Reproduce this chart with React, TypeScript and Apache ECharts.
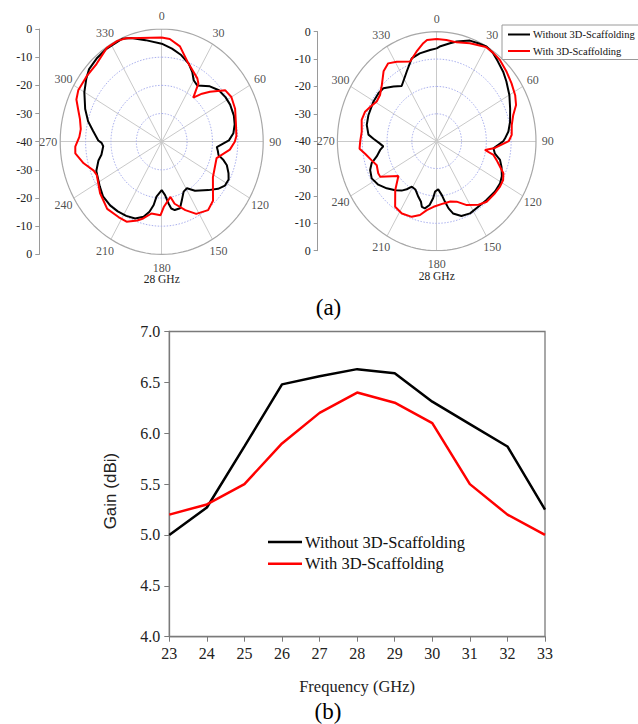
import React, { useEffect, useRef } from 'react';
import * as echarts from 'echarts';

// ---------- data ----------
const SERIES_NAMES = ['Without 3D-Scaffolding', 'With 3D-Scaffolding'];
const ANGLE_TICKS = [0, 30, 60, 90, 120, 150, 180, 210, 240, 270, 300, 330];
const RING_LEVELS = [-30, -20, -10]; // dB
const RADIAL_MIN = -40; // dB at the centre
const POLAR_CAPTION = '28 GHz';

// [angle (deg, clockwise from top), gain (dB)]
const LEFT_WITHOUT: [number, number][] = [
  [0, -5.2], [7, -6.7], [14, -8.3], [21, -10.3], [26, -12.5], [30, -14.8], [35, -15.6], [44, -12.7],
  [51, -11], [58, -10.3], [64, -10], [72, -10.1], [78, -10.6], [84, -11.6], [89, -13.5], [95, -18.2],
  [98, -17.7], [102, -17.1], [105, -14.8], [108, -13], [113, -11.4], [117, -10.4], [122, -10.6],
  [127, -12.2], [133, -14.8], [143, -18.2], [149, -20.7], [154, -20.3], [159, -17.8], [163, -15.3],
  [168, -15.2], [171, -16], [173, -17.9], [176, -21], [180, -22.8], [186, -20.4], [188, -17.3],
  [191, -14.7], [195, -12.4], [201, -10.8], [208, -10.2], [215, -9.8], [222, -9.6], [230, -9.8],
  [237, -10.9], [248, -12.2], [255, -14.2], [259, -15.8], [266, -16.9], [269, -16.3], [271, -15],
  [278, -12.7], [284, -10.1], [291, -7.7], [300, -4.8], [307, -2.8], [312, -1.5], [319, -0.9],
  [326, -0.5], [337, -0.3], [342, -1.3], [350, -3.4], [360, -5.2],
];
const LEFT_WITH: [number, number][] = [
  [0, -3], [5, -3.4], [12, -5.4], [20, -10], [26, -12], [32, -13.5], [35, -14.8], [38.5, -20],
  [43, -16.7], [47, -14], [54, -9], [60, -8.3], [68, -8.8], [77, -10], [86, -10.5], [90, -11.2],
  [96, -13], [105, -17.6], [122, -16.2], [136, -10.9], [143, -9.6], [152, -11], [159, -14],
  [167, -17.4], [170, -20.1], [178, -16.8], [181, -13.9], [189, -14.2], [195, -11.8], [199, -10.4],
  [206, -8.4], [212.5, -8.3], [222, -7.9], [233, -9.6], [245, -11.8], [249, -11.3], [256, -8.3],
  [263, -5.7], [267, -5.9], [273, -7.5], [278, -7.8], [284, -6.8], [289, -5.2], [294, -3.2],
  [299, -2.4], [308, -2.4], [317, -2.3], [327, -0.3], [334, -0.2], [339, -0.7], [347, -2.2], [360, -3],
];
const RIGHT_WITHOUT: [number, number][] = [
  [0, -6.1], [2, -5.4], [8.5, -3.8], [12.5, -2.7], [20, -0.9], [25, -0.5], [30, 0], [35, -0.6],
  [40, -1.8], [46.5, -3.1], [52, -4.4], [60, -6.2], [68, -8.1], [76.5, -9.6], [83, -10.9], [88, -12.5],
  [90, -13.2], [96.5, -17], [101, -16.1], [105, -13.6], [110, -12.2], [116, -10.8], [121, -10.2],
  [128, -10.2], [137, -10.6], [145, -10.8], [153, -10.4], [160, -10.9], [166, -12.8], [169, -15],
  [171.4, -17.6], [174, -20.2], [178, -22.4], [182, -21.6], [184, -19.1], [187, -16.5], [191, -15],
  [194, -15.3], [196, -17], [200, -18.4], [206, -20.4], [211, -20.6], [214.5, -18.7], [218, -17.1],
  [223, -15.5], [229.5, -13.5], [236, -11.6], [242.6, -10.5], [248.6, -11.2], [253, -12.6],
  [257, -15.2], [262, -17], [265, -18.4], [268, -17], [272, -14.5], [275, -12.4], [282, -11.2],
  [289, -10.9], [299.5, -10.7], [307, -10.7], [312, -11.1], [319, -13.5], [325, -15.4],
  [334.5, -11.9], [341.6, -8.1], [348, -7.2], [355.4, -6.6], [360, -6.1],
];
const RIGHT_WITH: [number, number][] = [
  [0, -2.7], [6, -2.8], [12.6, -3], [20.5, -1.8], [30, -0.3], [35, -0.5], [40.6, -0.9], [48, -2.1],
  [55, -3.2], [62, -4.2], [67.5, -5.4], [72.7, -7.7], [79, -9.2], [85.6, -9.7], [90, -11], [96, -16.4],
  [99.4, -20.3], [102.4, -16.6], [106, -14.9], [110, -12.9], [113.6, -10.7], [118, -9.7], [123, -9.6],
  [129, -9.8], [137.7, -10.1], [144, -11.3], [152.6, -13.7], [160, -16.5], [166, -17.3], [173, -17.1],
  [183, -16], [189, -14.5], [194, -12.2], [200, -10.6], [208, -10.1], [215, -10.8], [217, -12.2],
  [223, -15.5], [230.5, -20], [240.4, -13.8], [243.6, -13.7], [250, -14.3], [255, -12.9], [261, -10.8],
  [265, -8.8], [270, -9.2], [276.6, -9.6], [284.4, -8.8], [290.5, -9.2], [295, -10.4], [301, -11.8],
  [306.5, -11.6], [313, -9.8], [320, -6.7], [325.5, -5.5], [331, -6.8], [339.8, -9], [346, -6.3],
  [351.4, -3.8], [354, -2.8], [360, -2.7],
];

const FREQ_GHZ = [23, 24, 25, 26, 27, 28, 29, 30, 31, 32, 33];
const GAIN_WITHOUT = [5.0, 5.27, 5.87, 6.48, 6.56, 6.63, 6.59, 6.31, 6.09, 5.87, 5.25];
const GAIN_WITH = [5.2, 5.3, 5.5, 5.9, 6.2, 6.4, 6.3, 6.1, 5.5, 5.2, 5.0];

// ---------- helpers ----------
const SERIF = "'Liberation Serif', 'Times New Roman', serif";
const SANS = "'Liberation Sans', Arial, sans-serif";
const R = -RADIAL_MIN;
const toXY = (angle: number, db: number) => {
  const r = db - RADIAL_MIN;
  const t = (angle * Math.PI) / 180;
  return [r * Math.sin(t), r * Math.cos(t)];
};
const ringPoints = (db: number) => {
  const pts: number[][] = [];
  for (let a = 0; a <= 360; a += 3) pts.push(toXY(a, db));
  return pts;
};

const POLAR_LAYOUT = [
  { left: 60.2, top: 29, width: 203, height: 225.4, axisX: 39.3 },
  { left: 337.4, top: 31.7, width: 198.6, height: 219, axisX: 317.7 },
];

export default function App() {
  const ref = useRef<HTMLDivElement>(null);

  useEffect(() => {
    if (!ref.current) return;
    const chart = echarts.init(ref.current, undefined, { renderer: 'svg' });

    const grids: any[] = [];
    const xAxes: any[] = [];
    const yAxes: any[] = [];
    const series: any[] = [];
    const polarData = [
      [LEFT_WITHOUT, LEFT_WITH],
      [RIGHT_WITHOUT, RIGHT_WITH],
    ];

    POLAR_LAYOUT.forEach((p, i) => {
      grids.push({ left: p.left, top: p.top, width: p.width, height: p.height, containLabel: false });
      xAxes.push({ gridIndex: i, type: 'value', min: -R, max: R, show: false });
      yAxes.push({
        gridIndex: i,
        type: 'value',
        min: -R,
        max: R,
        interval: 10,
        position: 'left',
        offset: p.left - p.axisX,
        axisLine: { show: true, onZero: false, lineStyle: { color: '#9a9a9a', width: 1 } },
        axisTick: { show: true, length: 4, lineStyle: { color: '#9a9a9a' } },
        splitLine: { show: false },
        axisLabel: {
          margin: 7,
          fontFamily: SERIF,
          fontSize: 12,
          color: '#222',
          formatter: (v: number) => String(Math.abs(v) + RADIAL_MIN),
        },
      });
      // spokes
      series.push({
        type: 'lines',
        coordinateSystem: 'cartesian2d',
        xAxisIndex: i,
        yAxisIndex: i,
        silent: true,
        z: 1,
        lineStyle: { color: '#c9c9c9', width: 1, opacity: 1 },
        data: ANGLE_TICKS.map((a) => ({ coords: [[0, 0], toXY(a, 0)] })),
      });
      // rings
      RING_LEVELS.forEach((lvl) => {
        series.push({
          type: 'line',
          xAxisIndex: i,
          yAxisIndex: i,
          silent: true,
          symbol: 'none',
          z: 1,
          lineStyle: { color: '#aab0ee', width: 1, type: [1.5, 1.5] },
          data: ringPoints(lvl),
        });
      });
      series.push({
        type: 'line',
        xAxisIndex: i,
        yAxisIndex: i,
        silent: true,
        symbol: 'none',
        z: 1,
        lineStyle: { color: '#a8a8a8', width: 1.2 },
        data: ringPoints(0),
      });
      // angle labels
      series.push({
        type: 'scatter',
        xAxisIndex: i,
        yAxisIndex: i,
        silent: true,
        clip: false,
        symbolSize: 1,
        itemStyle: { color: 'rgba(0,0,0,0)' },
        label: {
          show: true,
          position: 'inside',
          fontFamily: SERIF,
          fontSize: 12,
          color: '#222',
          formatter: (pr: any) => String(pr.value[2]),
        },
        data: ANGLE_TICKS.map((a) => {
          const xy = toXY(a, 4.7);
          return [xy[0], xy[1], a];
        }),
      });
      // pattern curves
      polarData[i].forEach((arr, k) => {
        series.push({
          name: SERIES_NAMES[k],
          type: 'line',
          xAxisIndex: i,
          yAxisIndex: i,
          symbol: 'none',
          z: 3,
          lineStyle: { color: k === 0 ? '#000000' : '#ff0000', width: 2 },
          itemStyle: { color: k === 0 ? '#000000' : '#ff0000' },
          data: arr.map(([a, db]) => toXY(a, db)),
        });
      });
    });

    // Gain vs frequency chart
    grids.push({
      left: 169.3,
      top: 331.5,
      width: 375.7,
      height: 305.2,
      show: true,
      borderColor: '#7a7a7a',
      borderWidth: 1.3,
      backgroundColor: 'transparent',
    });
    xAxes.push({
      gridIndex: 2,
      type: 'value',
      min: 23,
      max: 33,
      interval: 1,
      name: 'Frequency (GHz)',
      nameLocation: 'middle',
      nameGap: 41,
      nameTextStyle: { fontFamily: SERIF, fontSize: 16.5, color: '#222' },
      axisLine: { show: true, onZero: false, lineStyle: { color: '#7a7a7a', width: 1.3 } },
      axisTick: { show: true, length: 5, lineStyle: { color: '#7a7a7a' } },
      splitLine: { show: false },
      axisLabel: { margin: 9, fontFamily: SERIF, fontSize: 16, color: '#222' },
    });
    yAxes.push({
      gridIndex: 2,
      type: 'value',
      min: 4,
      max: 7,
      interval: 0.5,
      name: 'Gain (dBi)',
      nameLocation: 'middle',
      nameRotate: 90,
      nameGap: 50,
      nameTextStyle: { fontFamily: SANS, fontSize: 17, color: '#222', padding: [0, 14, 0, 0] },
      axisLine: { show: true, onZero: false, lineStyle: { color: '#7a7a7a', width: 1.3 } },
      axisTick: { show: true, length: 5, lineStyle: { color: '#7a7a7a' } },
      splitLine: { show: false },
      axisLabel: {
        margin: 9,
        fontFamily: SERIF,
        fontSize: 16,
        color: '#222',
        formatter: (v: number) => v.toFixed(1),
      },
    });
    [GAIN_WITHOUT, GAIN_WITH].forEach((vals, k) => {
      series.push({
        name: SERIES_NAMES[k],
        type: 'line',
        xAxisIndex: 2,
        yAxisIndex: 2,
        symbol: 'none',
        z: 3,
        lineStyle: { color: k === 0 ? '#000000' : '#ff0000', width: 2.5 },
        itemStyle: { color: k === 0 ? '#000000' : '#ff0000' },
        data: FREQ_GHZ.map((f, j) => [f, vals[j]]),
      });
    });

    chart.setOption({
      animation: false,
      backgroundColor: '#ffffff',
      grid: grids,
      xAxis: xAxes,
      yAxis: yAxes,
      series,
      legend: [
        {
          data: SERIES_NAMES,
          orient: 'vertical',
          left: 502,
          top: 25,
          icon: 'rect',
          itemWidth: 22,
          itemHeight: 2,
          itemGap: 5.5,
          padding: [4, 6, 3, 6],
          borderColor: '#9a9a9a',
          borderWidth: 1,
          backgroundColor: '#ffffff',
          selectedMode: false,
          textStyle: { fontFamily: SERIF, fontSize: 10.5, color: '#111', padding: [0, 0, 0, -2] },
        },
        {
          data: SERIES_NAMES,
          orient: 'vertical',
          left: 263,
          top: 528.5,
          icon: 'rect',
          itemWidth: 34,
          itemHeight: 2.5,
          itemGap: 4.7,
          selectedMode: false,
          textStyle: { fontFamily: SERIF, fontSize: 16.5, color: '#111', padding: [0, 0, 0, -2] },
        },
      ],
      graphic: [
        {
          type: 'text',
          x: 161.7,
          y: 279.3,
          style: { text: POLAR_CAPTION, fontFamily: SERIF, fontSize: 11.5, fill: '#222', align: 'center', verticalAlign: 'middle' },
        },
        {
          type: 'text',
          x: 436.7,
          y: 276,
          style: { text: POLAR_CAPTION, fontFamily: SERIF, fontSize: 11.5, fill: '#222', align: 'center', verticalAlign: 'middle' },
        },
        {
          type: 'text',
          x: 328.5,
          y: 307,
          style: { text: '(a)', fontFamily: SERIF, fontSize: 23, fill: '#000', align: 'center', verticalAlign: 'middle' },
        },
        {
          type: 'text',
          x: 328,
          y: 711,
          style: { text: '(b)', fontFamily: SERIF, fontSize: 23, fill: '#000', align: 'center', verticalAlign: 'middle' },
        },
      ],
    });

    return () => chart.dispose();
  }, []);

  return (
    <div style={{ position: 'fixed', left: 0, top: 0, width: 638, height: 724, background: '#fff' }}>
      <div ref={ref} style={{ width: 638, height: 724 }} />
    </div>
  );
}
